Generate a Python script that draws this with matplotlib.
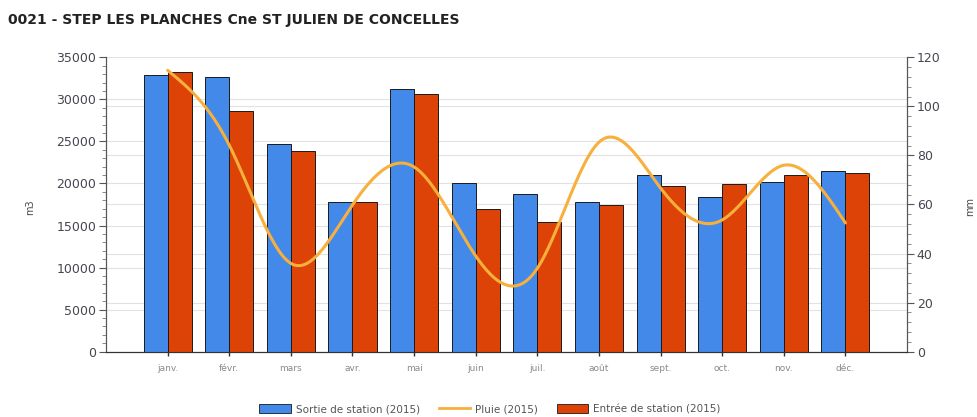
import numpy as np
import matplotlib
matplotlib.use("Agg")
import matplotlib.pyplot as plt
from matplotlib.ticker import MultipleLocator
from matplotlib.patches import Patch
from matplotlib.lines import Line2D

months = ["janv.", "févr.", "mars", "avr.", "mai", "juin", "juil.", "août", "sept.", "oct.", "nov.", "déc."]
sortie = [32900, 32600, 24700, 17800, 31200, 20000, 18750, 17800, 20950, 18450, 20200, 21450]
entree = [33200, 28600, 23900, 17800, 30600, 17000, 15450, 17450, 19700, 19950, 21000, 21250]
pluie = [114.7, 84.2, 36.0, 59.8, 75.3, 39.0, 34.0, 85.4, 66.7, 53.7, 76.0, 52.5]

title = "0021 - STEP LES PLANCHES Cne ST JULIEN DE CONCELLES"
label_left = "m3"
label_right = "mm"
leg_labels = ["Sortie de station (2015)", "Pluie (2015)", "Entrée de station (2015)"]

BLUE = "#4289ea"
RED = "#dd4206"
ORANGE = "#f7b03c"
TXT = "#4a4450"

plt.rcParams['font.family'] = ['DejaVu Sans']

fig = plt.figure(figsize=(9.77, 4.17), dpi=100)
ax = fig.add_axes([0.1085, 0.1566, 0.8199, 0.706])
ax2 = ax.twinx()

x = np.arange(len(months))
w = 0.39
ax.bar(x - w / 2, sortie, width=w, color=BLUE, edgecolor="#1a1a1a", linewidth=0.7, zorder=3)
ax.bar(x + w / 2, entree, width=w, color=RED, edgecolor="#1a1a1a", linewidth=0.7, zorder=3)

# smooth curve through rain points (natural cubic spline, drawing only)
y = np.array(pluie, dtype=float)
n = len(y)
A = np.zeros((n, n))
b = np.zeros(n)
A[0, 0] = 1
A[-1, -1] = 1
for i in range(1, n - 1):
    A[i, i - 1] = 1
    A[i, i] = 4
    A[i, i + 1] = 1
    b[i] = 6 * (y[i + 1] - 2 * y[i] + y[i - 1])
M = np.linalg.solve(A, b)
xs, ys = [], []
for i in range(n - 1):
    t = np.linspace(0, 1, 30)
    seg = (1 - t) * y[i] + t * y[i + 1] + ((1 - t) ** 3 - (1 - t)) * M[i] / 6 + (t ** 3 - t) * M[i + 1] / 6
    xs.extend(x[i] + t)
    ys.extend(seg)
ax2.plot(xs, ys, color=ORANGE, linewidth=2.2, solid_capstyle="round", zorder=4)

ax.set_xlim(-1, 12)
ax.set_ylim(0, 35000)
ax2.set_ylim(0, 120)
ax.yaxis.set_major_locator(MultipleLocator(5000))
ax.yaxis.set_minor_locator(MultipleLocator(1000))
ax2.yaxis.set_major_locator(MultipleLocator(20))
ax2.yaxis.set_minor_locator(MultipleLocator(4))

ax.set_xticks(x)
ax.set_xticklabels(months, fontsize=6.5, color="#8a8a8a")
ax.tick_params(axis="x", length=3, width=1, color="#333333", pad=6)
ax.tick_params(axis="y", which="major", length=5, width=0.8, color="#555555", labelsize=9, labelcolor=TXT, pad=2)
ax.tick_params(axis="y", which="minor", length=3, width=0.6, color="#777777")
ax2.tick_params(axis="y", which="major", length=5, width=0.8, color="#555555", labelsize=9, labelcolor=TXT, pad=2)
ax2.tick_params(axis="y", which="minor", length=3, width=0.6, color="#777777")

ax.grid(axis="y", color="#e2e2e2", linewidth=0.8, zorder=0)
for v in range(20, 120, 20):
    ax.axhline(v / 120 * 35000, color="#e2e2e2", linewidth=0.8, zorder=0)
ax.set_axisbelow(True)

for a in (ax, ax2):
    a.spines["top"].set_visible(False)
    a.spines["left"].set_color("#555555")
    a.spines["right"].set_color("#555555")
    a.spines["bottom"].set_color("#333333")
ax2.set_zorder(ax.get_zorder() + 1)
ax2.patch.set_visible(False)

fig.text(30 / 977, 1 - 207 / 417, label_left, rotation=90, fontsize=7, color=TXT, ha="center", va="center")
fig.text(970 / 977, 1 - 207 / 417, label_right, rotation=90, fontsize=7, color=TXT, ha="center", va="center")
fig.text(8 / 977, 1 - 20 / 417, title, fontsize=10, fontweight="bold", color="#222222",
         family="DejaVu Sans", ha="left", va="center")

handles = [Patch(facecolor=BLUE, edgecolor="#1a1a1a", linewidth=0.6),
           Line2D([0], [0], color=ORANGE, linewidth=2),
           Patch(facecolor=RED, edgecolor="#1a1a1a", linewidth=0.6)]
fig.legend(handles, leg_labels, loc="center", bbox_to_anchor=(490 / 977, 1 - 409 / 417), ncol=3,
           frameon=False, fontsize=7.5, labelcolor="#555555", handlelength=3.0, handleheight=0.9,
           columnspacing=1.8, handletextpad=0.5)

fig.savefig("out.png", dpi=100)
